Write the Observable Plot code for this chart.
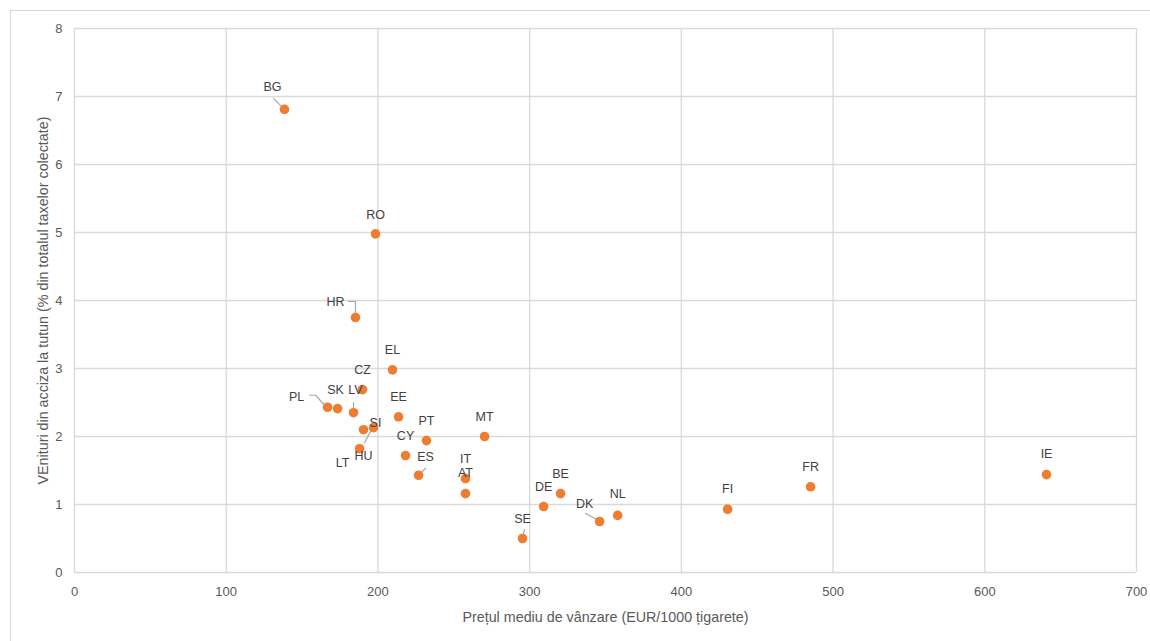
<!DOCTYPE html>
<html>
<head>
<meta charset="utf-8">
<script src="https://cdn.jsdelivr.net/npm/d3@7"></script>
<script src="https://cdn.jsdelivr.net/npm/@observablehq/plot@0.6"></script>
<style>
  body { margin: 0; background: #fff; }
  #wrap { position: relative; width: 1150px; height: 641px; overflow: hidden; }
  #border { position: absolute; left: 10px; top: 10px; width: 1200px; height: 700px;
            border-left: 1px solid #d9d9d9; border-top: 1px solid #d9d9d9; }
  #chart { position: absolute; left: 0; top: 0; }
</style>
</head>
<body>
<div id="wrap"><div id="border"></div><div id="chart"></div></div>
<script>
// ---- data ----
const countries = ["BG","RO","HR","EL","CZ","EE","PL","SK","LV","SI","HU","LT","PT","CY","MT","ES","IT","AT","SE","DE","BE","DK","NL","FI","FR","IE"];
const prices    = [138.4,198.4,185.2,209.6,189.8,213.6,166.8,173.4,183.9,190.5,197.1,187.9,232.0,218.2,270.3,226.8,257.7,257.7,295.3,309.2,320.4,346.1,358.0,430.5,485.2,640.7];
const shares    = [6.81,4.98,3.75,2.98,2.69,2.29,2.43,2.41,2.35,2.10,2.13,1.82,1.94,1.72,2.00,1.43,1.38,1.16,0.50,0.97,1.16,0.75,0.84,0.93,1.26,1.44];
const xTicks = [0,100,200,300,400,500,600,700];
const yTicks = [0,1,2,3,4,5,6,7,8];
const xTitle = "Prețul mediu de vânzare (EUR/1000 țigarete)";
const yTitle = "VEnituri din acciza la tutun (% din totalul taxelor colectate)";

// ---- layout (pixel offsets of labels / leader lines relative to their point) ----
const W = 1150, H = 641, mL = 74, mR = 14, mT = 28, mB = 69;
const kx = 700 / (W - mL - mR), ky = 8 / (H - mT - mB);
const labelOffset = {
  BG: [-12, -22], HR: [-20, -16], PL: [-31, -10], LV: [2, -23], SI: [12, -7],
  HU: [-10, 28], LT: [-17, 14], ES: [7, -18], DK: [-15, -18], AT: [0, -21],
  NL: [0, -21], IE: [0, -21], SK: [-2, -19], RO: [0, -19]
};
const leaders = {
  BG: [[-11, -11], [-1, -1]],
  HR: [[-7, -16], [0, -16], [0, -5]],
  PL: [[-18, -12], [-12, -12], [-2, -1]],
  LV: [[0, -10], [0, -2]],
  HU: [[-9, 15], [-1, 0]],
  ES: [[1, -1], [7, -7]],
  SE: [[2, -9], [0, -2]],
  DK: [[-14, -8], [-1, -1]]
};

const data = countries.map((c, i) => ({ c, x: prices[i], y: shares[i] }));
const labels = data.map(d => {
  const [dx, dy] = labelOffset[d.c] || [0, -20];
  return { c: d.c, x: d.x + dx * kx, y: d.y - dy * ky };
});
const leaderPts = [];
data.forEach(d => {
  (leaders[d.c] || []).forEach(([dx, dy]) =>
    leaderPts.push({ c: d.c, x: d.x + dx * kx, y: d.y - dy * ky }));
});

const font = "'Liberation Sans', Arial, sans-serif";
const chart = Plot.plot({
  width: W, height: H,
  marginLeft: mL, marginRight: mR, marginTop: mT, marginBottom: mB,
  style: { fontFamily: font, background: "transparent", overflow: "visible" },
  x: { domain: [0, 700], ticks: xTicks, label: null },
  y: { domain: [0, 8], ticks: yTicks, label: null },
  marks: [
    Plot.gridX(xTicks, { stroke: "#d9d9d9", strokeOpacity: 1, strokeWidth: 1.3 }),
    Plot.gridY(yTicks, { stroke: "#d9d9d9", strokeOpacity: 1, strokeWidth: 1.3 }),
    Plot.axisX(xTicks, { tickSize: 0, tickPadding: 14, fontSize: 13, color: "#595959", label: null, tickFormat: d => String(d) }),
    Plot.axisY(yTicks, { tickSize: 0, tickPadding: 12, fontSize: 13, color: "#595959", label: null, tickFormat: d => String(d) }),
    Plot.line(leaderPts, { x: "x", y: "y", z: "c", stroke: "#a6a6a6", strokeWidth: 1.2 }),
    Plot.dot(data, { x: "x", y: "y", r: 4.8, fill: "#ED7D31", stroke: "none" }),
    Plot.text(labels, { x: "x", y: "y", text: "c", fill: "#404040", fontSize: 12.5 }),
    Plot.text([xTitle], { frameAnchor: "bottom", dy: 45, lineAnchor: "middle", textAnchor: "middle", fontSize: 14.3, fill: "#595959" }),
    Plot.text([yTitle], { frameAnchor: "left", rotate: -90, dx: -31, lineAnchor: "middle", textAnchor: "middle", fontSize: 14.3, fill: "#595959" })
  ]
});
document.getElementById("chart").appendChild(chart);
</script>
</body>
</html>
